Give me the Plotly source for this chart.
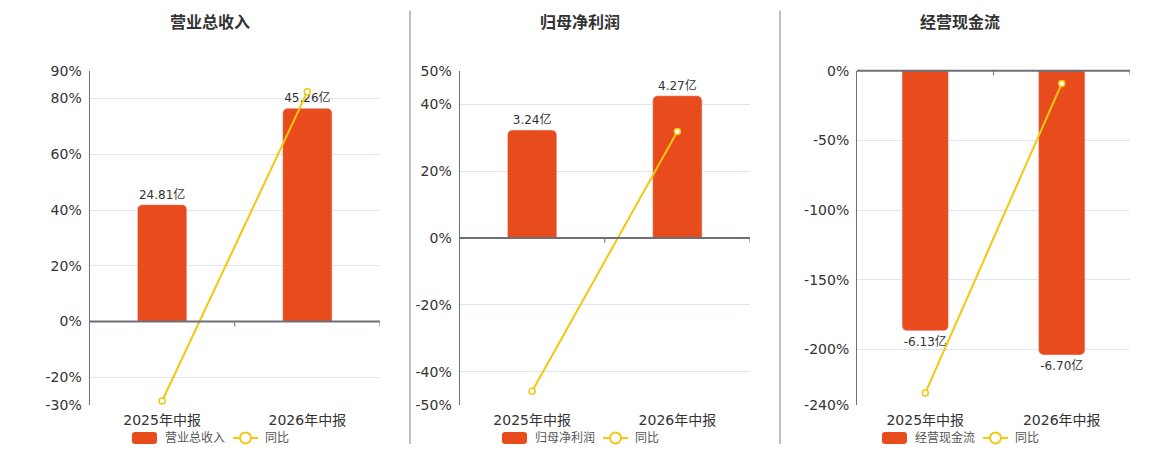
import plotly.graph_objects as go

# data
periods = ['2025年中报', '2026年中报']
titles = ['营业总收入', '归母净利润', '经营现金流']
amounts = [[24.81, 45.26], [3.24, 4.27], [-6.13, -6.70]]        # 亿
yoy = [[-28.5, 82.4], [-45.8, 31.8], [-231.3, -9.3]]            # %
pct_ranges = [[-30, 90], [-50, 50], [-240, 0]]
pct_ticks = [[90, 80, 60, 40, 20, 0, -20, -30],
             [50, 40, 20, 0, -20, -40, -50],
             [0, -50, -100, -150, -200, -240]]

# page offset / vertical scale seen in the screenshot
OX, OY, KY = 8, 16, 0.9636
W, H = 1144, 450
BAR = '#e84c1c'
LINE = '#f2c80f'
AXIS = '#6e7079'
GRID = '#e0e6f1'
FONT = 'DejaVu Sans, Noto Sans CJK SC, sans-serif'

# positions below are in screenshot pixels
x_domains = [(89.5, 380), (459.5, 750), (857, 1130)]
top_px, bottom_px = 70, 404.3
centers = [210, 580, 960]


def px(x):
    return (x - OX) / W


def py(y):
    return 1 - (y / KY - OY) / H


y_domain = [py(bottom_px), py(top_px)]

fig = go.Figure()
layout = dict(
    width=W, height=H,
    margin=dict(l=0, r=0, t=0, b=0),
    paper_bgcolor='white', plot_bgcolor='white',
    showlegend=False,
    font=dict(family=FONT, size=14, color='#333'),
)
shapes = []
annotations = []

for i in range(3):
    xa = 'x' if i == 0 else f'x{i + 1}'
    yb = 'y' if i == 0 else f'y{i + 1}'     # bars (hidden scale)
    yl = f'y{i + 4}'                          # percent axis for the line
    lo, hi = pct_ranges[i]
    m = max(abs(v) for v in amounts[i])
    if hi > 0:
        hb = m / 0.85
        lb = hb * lo / hi
    else:
        lb = -m / 0.85
        hb = 0

    fig.add_trace(go.Bar(
        x=periods, y=amounts[i], xaxis=xa, yaxis=yb,
        width=0.34, marker=dict(color=BAR, cornerradius=5),
        texttemplate='%{y:.2f}亿', textposition='outside',
        textfont=dict(size=12, color='#333'), cliponaxis=False,
        name=titles[i],
    ))
    fig.add_trace(go.Scatter(
        x=periods, y=yoy[i], xaxis=xa, yaxis=yl,
        mode='lines+markers',
        line=dict(color=LINE, width=2),
        marker=dict(size=6, color='white', line=dict(color=LINE, width=1.5)),
        cliponaxis=False, name='同比',
    ))

    key = 'xaxis' if i == 0 else f'xaxis{i + 1}'
    layout[key] = dict(
        domain=[px(x_domains[i][0]), px(x_domains[i][1])],
        anchor=yb, type='category', range=[-0.5, 1.5],
        showline=False, ticks='', showgrid=False,
        ticklabelstandoff=5, tickfont=dict(size=14, color='#333'),
    )
    bkey = 'yaxis' if i == 0 else f'yaxis{i + 1}'
    layout[bkey] = dict(
        domain=y_domain, anchor=xa, range=[lb, hb],
        visible=False, showgrid=False, zeroline=False,
    )
    layout[f'yaxis{i + 4}'] = dict(
        domain=y_domain, anchor=xa, overlaying=yb, side='left',
        range=[lo, hi], tickvals=pct_ticks[i],
        ticktext=[f'{t}%' for t in pct_ticks[i]],
        showgrid=True, gridcolor=GRID, gridwidth=1,
        zeroline=False, showline=True, linecolor=AXIS, linewidth=1,
        ticks='', ticklabelstandoff=4,
        tickfont=dict(size=14, color='#333'),
    )

    # category axis line at 0 with boundary ticks pointing down
    zero_y = y_domain[1] - (y_domain[1] - y_domain[0]) * hi / (hi - lo)
    shapes.append(dict(type='line', xref=f'{xa} domain', yref='paper',
                       x0=0, x1=1, y0=zero_y, y1=zero_y,
                       line=dict(color=AXIS, width=2)))
    for b in [0.5, 1.5]:
        shapes.append(dict(type='line', xref=xa, yref='paper', x0=b, x1=b,
                           y0=zero_y, y1=zero_y - 5 / H,
                           line=dict(color=AXIS, width=1)))

    cx = centers[i]
    annotations.append(dict(text=f'<b>{titles[i]}</b>', x=px(cx), y=py(22),
                            xref='paper', yref='paper',
                            xanchor='center', yanchor='middle',
                            showarrow=False, font=dict(size=16, color='#333')))
    # legend
    x0, x1, y0, y1 = cx - 78, cx - 53, 431, 443
    r = 3
    shapes.append(dict(
        type='path', xref='paper', yref='paper',
        path=(f'M {px(x0 + r)} {py(y0)} L {px(x1 - r)} {py(y0)} '
              f'Q {px(x1)} {py(y0)} {px(x1)} {py(y0 + r)} L {px(x1)} {py(y1 - r)} '
              f'Q {px(x1)} {py(y1)} {px(x1 - r)} {py(y1)} L {px(x0 + r)} {py(y1)} '
              f'Q {px(x0)} {py(y1)} {px(x0)} {py(y1 - r)} L {px(x0)} {py(y0 + r)} '
              f'Q {px(x0)} {py(y0)} {px(x0 + r)} {py(y0)} Z'),
        fillcolor=BAR, line=dict(width=0)))
    annotations.append(dict(text=titles[i], x=px(cx - 47), y=py(437),
                            xref='paper', yref='paper', xanchor='left',
                            yanchor='middle',
                            showarrow=False, font=dict(size=12, color='#555')))
    shapes.append(dict(type='line', xref='paper', yref='paper',
                       x0=px(cx + 23), x1=px(cx + 48), y0=py(437), y1=py(437),
                       line=dict(color=LINE, width=2)))
    shapes.append(dict(type='circle', xref='paper', yref='paper',
                       x0=px(cx + 30), x1=px(cx + 41), y0=py(431.5), y1=py(442.5),
                       fillcolor='white', line=dict(color=LINE, width=2)))
    annotations.append(dict(text='同比', x=px(cx + 53), y=py(437),
                            xref='paper', yref='paper', xanchor='left',
                            yanchor='middle',
                            showarrow=False, font=dict(size=12, color='#555')))

# panel separators
for sx in [410, 780]:
    shapes.append(dict(type='line', xref='paper', yref='paper',
                       x0=px(sx), x1=px(sx), y0=py(10), y1=py(443),
                       line=dict(color='#aaaaaa', width=1.5)))

layout['shapes'] = shapes
layout['annotations'] = annotations
fig.update_layout(**layout)

fig.write_html("out.html")
